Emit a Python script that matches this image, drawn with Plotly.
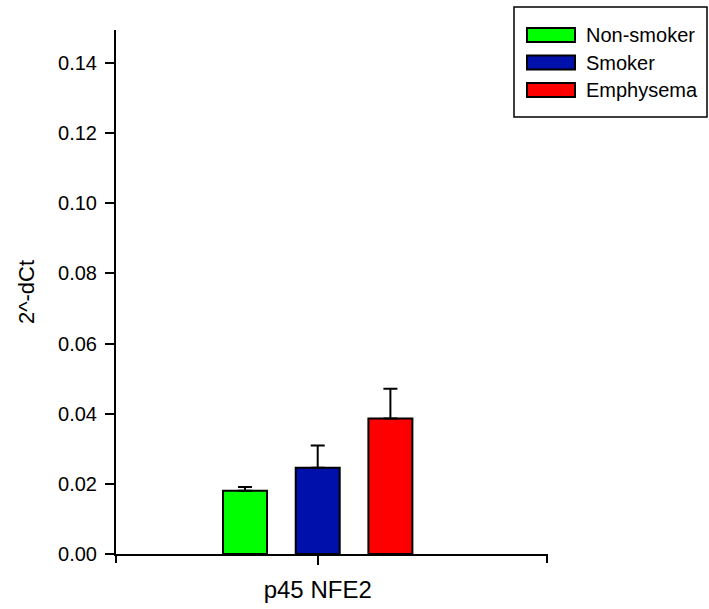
import plotly.graph_objects as go

# ---- data ----
categories = ["Non-smoker", "Smoker", "Emphysema"]
values = [0.0180, 0.0246, 0.0386]
errors = [0.0011, 0.0063, 0.0085]
colors = ["#00FF00", "#0010AA", "#FF0000"]
group_label = "p45 NFE2"
y_ticks = [0.00, 0.02, 0.04, 0.06, 0.08, 0.10, 0.12, 0.14]
y_title = "2^-dCt"

FONT = "Liberation Sans, Arial, sans-serif"
W, H = 709, 609
L, R, T, B = 116, 162, 30, 55
PW, PH = W - L - R, H - T - B


def px(xpix):
    return (xpix - L) / PW


def py(ypix):
    return (H - B - ypix) / PH


fig = go.Figure()
for cat, v, e, c in zip(categories, values, errors, colors):
    fig.add_trace(go.Bar(
        x=[group_label], y=[v], name=cat,
        marker=dict(color=c, line=dict(color="black", width=2)),
        error_y=dict(type="data", symmetric=False, array=[e], arrayminus=[0],
                     color="black", thickness=2, width=7),
        showlegend=False,
    ))

shapes = []
annotations = []
# end ticks on x axis
for xe in (0, 1):
    shapes.append(dict(type="line", xref="paper", yref="paper",
                       x0=xe, x1=xe, y0=0, y1=-9 / PH,
                       line=dict(color="black", width=2)))

# custom legend
shapes.append(dict(type="rect", xref="paper", yref="paper",
                   x0=px(514), x1=px(707), y0=py(117), y1=py(7),
                   line=dict(color="black", width=1.5), fillcolor="white", layer="below"))
row_centers = [35, 62.5, 90]
for cat, c, yc in zip(categories, colors, row_centers):
    shapes.append(dict(type="rect", xref="paper", yref="paper",
                       x0=px(527), x1=px(575), y0=py(yc + 7), y1=py(yc - 7),
                       line=dict(color="black", width=2), fillcolor=c))
    annotations.append(dict(xref="paper", yref="paper", x=px(584), y=py(yc),
                            text=cat, showarrow=False, xanchor="left", yanchor="middle",
                            font=dict(family=FONT, size=20, color="black")))

fig.update_layout(
    width=W, height=H,
    margin=dict(l=L, r=R, t=T, b=B, autoexpand=False),
    paper_bgcolor="white", plot_bgcolor="white",
    barmode="group", bargap=0.494, bargroupgap=0.395,
    font=dict(family=FONT, size=20, color="black"),
    shapes=shapes, annotations=annotations,
    xaxis=dict(type="category", range=[-0.468, 0.532], showline=True, linecolor="black",
               linewidth=2, ticks="outside", ticklen=9, tickwidth=2, tickcolor="black",
               showgrid=False, zeroline=False, ticklabelstandoff=4,
               tickfont=dict(family=FONT, size=24, color="black")),
    yaxis=dict(range=[0, 0.1494], tickvals=y_ticks,
               ticktext=[f"{t:.2f}" for t in y_ticks],
               showline=True, linecolor="black", linewidth=2, ticks="outside",
               ticklen=9, tickwidth=2, tickcolor="black", showgrid=False, zeroline=False,
               ticklabelstandoff=4,
               tickfont=dict(family=FONT, size=20, color="black"),
               title=dict(text=y_title, standoff=17,
                          font=dict(family=FONT, size=22, color="black"))),
)

fig.write_html("out.html", config={"displayModeBar": False},
               post_script="document.body.style.margin='0px';")
